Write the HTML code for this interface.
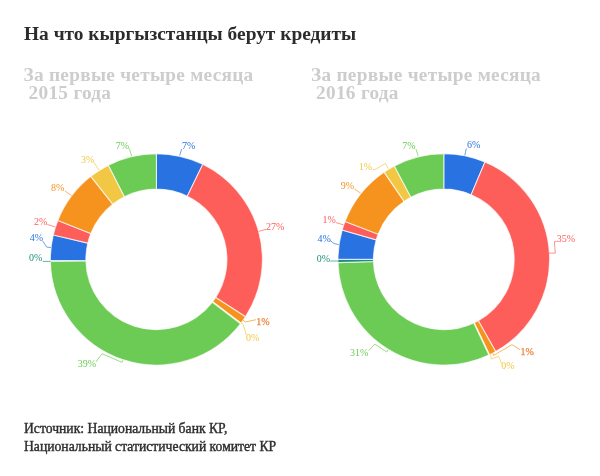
<!DOCTYPE html>
<html lang="ru"><head><meta charset="utf-8"><title>На что кыргызстанцы берут кредиты</title>
<style>
html,body{margin:0;padding:0;background:#fff}
body{width:600px;height:476px;position:relative;overflow:hidden;font-family:"Liberation Serif",serif}
.t{position:absolute;left:24px;white-space:nowrap;font-weight:bold;transform-origin:0 0}
#title{top:22px;font-size:19.4px;line-height:24px;color:#2c2c2e}
.sub{font-size:19.3px;letter-spacing:0.28px;line-height:18px;color:#cdcdcd;top:66px;white-space:pre}
#s1{left:23.5px} #s2{left:311px}
#foot{top:419.5px;font-size:13.67px;line-height:18px;color:#2e2e2e;font-weight:normal;-webkit-text-stroke:0.4px #2e2e2e}
svg{position:absolute;left:0;top:0}
svg text{font-family:"Liberation Serif",serif;font-size:10px;stroke-width:0}
svg text.b{stroke:#ef7f3e;stroke-width:0.25px;fill:#f0862e}
</style></head><body>
<div class="t" id="title">На что кыргызстанцы берут кредиты</div>
<div class="t sub" id="s1">За первые четыре месяца<br> 2015 года</div>
<div class="t sub" id="s2">За первые четыре месяца<br> 2016 года</div>
<svg width="600" height="476" viewBox="0 0 600 476">
<path d="M156.40,153.70A106.02,105.7 0 0 1 202.80,164.36L187.26,196.19A70.51,70.3 0 0 0 156.40,189.10Z" fill="#2972e2" stroke="#fff" stroke-opacity="0.7" stroke-width="1.1"/>
<path d="M202.80,164.36A106.02,105.7 0 0 1 245.48,316.71L215.65,297.52A70.51,70.3 0 0 0 187.26,196.19Z" fill="#fd5e5a" stroke="#fff" stroke-opacity="0.7" stroke-width="1.1"/>
<path d="M245.48,316.71A106.02,105.7 0 0 1 240.98,323.13L212.65,301.79A70.51,70.3 0 0 0 215.65,297.52Z" fill="#f6921e" stroke="#fff" stroke-opacity="0.7" stroke-width="1.1"/>
<path d="M240.98,323.13A106.02,105.7 0 0 1 240.50,323.76L212.33,302.21A70.51,70.3 0 0 0 212.65,301.79Z" fill="#f2c744" stroke="#fff" stroke-opacity="0.7" stroke-width="1.1"/>
<path d="M240.50,323.76A106.02,105.7 0 0 1 50.40,261.53L85.90,260.81A70.51,70.3 0 0 0 212.33,302.21Z" fill="#6ccb54" stroke="#fff" stroke-opacity="0.7" stroke-width="1.1"/>
<path d="M50.40,261.53A106.02,105.7 0 0 1 50.39,260.60L85.89,260.20A70.51,70.3 0 0 0 85.90,260.81Z" fill="#1f8f78" stroke="#fff" stroke-opacity="0.7" stroke-width="1.1"/>
<path d="M50.39,260.60A106.02,105.7 0 0 1 53.27,234.92L87.81,243.12A70.51,70.3 0 0 0 85.89,260.20Z" fill="#2972e2" stroke="#fff" stroke-opacity="0.7" stroke-width="1.1"/>
<path d="M53.27,234.92A106.02,105.7 0 0 1 57.83,220.49L90.84,233.52A70.51,70.3 0 0 0 87.81,243.12Z" fill="#fd5e5a" stroke="#fff" stroke-opacity="0.7" stroke-width="1.1"/>
<path d="M57.83,220.49A106.02,105.7 0 0 1 90.79,176.37L112.76,204.18A70.51,70.3 0 0 0 90.84,233.52Z" fill="#f6921e" stroke="#fff" stroke-opacity="0.7" stroke-width="1.1"/>
<path d="M90.79,176.37A106.02,105.7 0 0 1 108.39,165.16L124.47,196.72A70.51,70.3 0 0 0 112.76,204.18Z" fill="#f2c744" stroke="#fff" stroke-opacity="0.7" stroke-width="1.1"/>
<path d="M108.39,165.16A106.02,105.7 0 0 1 156.40,153.70L156.40,189.10A70.51,70.3 0 0 0 124.47,196.72Z" fill="#6ccb54" stroke="#fff" stroke-opacity="0.7" stroke-width="1.1"/>
<path d="M443.80,153.70A105.81,105.7 0 0 1 484.96,162.03L471.18,194.64A70.37,70.3 0 0 0 443.80,189.10Z" fill="#2972e2" stroke="#fff" stroke-opacity="0.7" stroke-width="1.1"/>
<path d="M484.96,162.03A105.81,105.7 0 0 1 495.64,351.54L478.28,320.68A70.37,70.3 0 0 0 471.18,194.64Z" fill="#fd5e5a" stroke="#fff" stroke-opacity="0.7" stroke-width="1.1"/>
<path d="M495.64,351.54A105.81,105.7 0 0 1 489.45,354.76L474.16,322.82A70.37,70.3 0 0 0 478.28,320.68Z" fill="#f6921e" stroke="#fff" stroke-opacity="0.7" stroke-width="1.1"/>
<path d="M489.45,354.76A105.81,105.7 0 0 1 488.85,355.04L473.76,323.01A70.37,70.3 0 0 0 474.16,322.82Z" fill="#f2c744" stroke="#fff" stroke-opacity="0.7" stroke-width="1.1"/>
<path d="M488.85,355.04A105.81,105.7 0 0 1 338.04,262.59L373.46,261.52A70.37,70.3 0 0 0 473.76,323.01Z" fill="#6ccb54" stroke="#fff" stroke-opacity="0.7" stroke-width="1.1"/>
<path d="M338.04,262.59A105.81,105.7 0 0 1 337.99,259.40L373.43,259.40A70.37,70.3 0 0 0 373.46,261.52Z" fill="#1f8f78" stroke="#fff" stroke-opacity="0.7" stroke-width="1.1"/>
<path d="M337.99,259.40A105.81,105.7 0 0 1 342.16,230.04L376.20,239.87A70.37,70.3 0 0 0 373.43,259.40Z" fill="#2972e2" stroke="#fff" stroke-opacity="0.7" stroke-width="1.1"/>
<path d="M342.16,230.04A105.81,105.7 0 0 1 345.06,221.42L378.13,234.14A70.37,70.3 0 0 0 376.20,239.87Z" fill="#fd5e5a" stroke="#fff" stroke-opacity="0.7" stroke-width="1.1"/>
<path d="M345.06,221.42A105.81,105.7 0 0 1 384.11,172.13L404.10,201.36A70.37,70.3 0 0 0 378.13,234.14Z" fill="#f6921e" stroke="#fff" stroke-opacity="0.7" stroke-width="1.1"/>
<path d="M384.11,172.13A105.81,105.7 0 0 1 394.35,165.95L410.91,197.25A70.37,70.3 0 0 0 404.10,201.36Z" fill="#f2c744" stroke="#fff" stroke-opacity="0.7" stroke-width="1.1"/>
<path d="M394.35,165.95A105.81,105.7 0 0 1 443.80,153.70L443.80,189.10A70.37,70.3 0 0 0 410.91,197.25Z" fill="#6ccb54" stroke="#fff" stroke-opacity="0.7" stroke-width="1.1"/>
<polyline points="181.6,149.1 179.7,155.6" fill="none" stroke="#2972e2" stroke-width="0.8" stroke-opacity="0.85"/>
<text x="182" y="148.6" fill="#2972e2" stroke="#2972e2" text-anchor="start">7%</text>
<polyline points="266.0,229.4 258.6,231.4" fill="none" stroke="#fd5e5a" stroke-width="0.8" stroke-opacity="0.85"/>
<text x="266" y="229.7" fill="#fd5e5a" stroke="#fd5e5a" text-anchor="start">27%</text>
<polyline points="256.0,319.7 245.3,322.0 242.7,320.0" fill="none" stroke="#f6921e" stroke-width="0.8" stroke-opacity="0.85"/>
<text x="256.3" y="325.3" fill="#f6921e" stroke="#f6921e" text-anchor="start" class="b">1%</text>
<polyline points="246.3,335.0 243.3,324.7 241.0,323.0" fill="none" stroke="#f2c744" stroke-width="0.8" stroke-opacity="0.85"/>
<text x="246" y="341.0" fill="#f2c744" stroke="#f2c744" text-anchor="start">0%</text>
<polyline points="96.0,362.0 102.0,353.7 122.0,362.4 122.9,360.2" fill="none" stroke="#6ccb54" stroke-width="0.8" stroke-opacity="0.85"/>
<text x="96" y="367.0" fill="#6ccb54" stroke="#6ccb54" text-anchor="end">39%</text>
<polyline points="42.7,261.4 50.6,261.4" fill="none" stroke="#1f8f78" stroke-width="0.8" stroke-opacity="0.85"/>
<text x="42.4" y="261.3" fill="#1f8f78" stroke="#1f8f78" text-anchor="end">0%</text>
<polyline points="42.7,241.0 46.7,247.1 51.0,247.5" fill="none" stroke="#2972e2" stroke-width="0.8" stroke-opacity="0.85"/>
<text x="43.2" y="241.3" fill="#2972e2" stroke="#2972e2" text-anchor="end">4%</text>
<polyline points="47.3,224.5 55.2,226.9" fill="none" stroke="#fd5e5a" stroke-width="0.8" stroke-opacity="0.85"/>
<text x="47.4" y="225.3" fill="#fd5e5a" stroke="#fd5e5a" text-anchor="end">2%</text>
<polyline points="64.7,190.9 71.6,195.6" fill="none" stroke="#f6921e" stroke-width="0.8" stroke-opacity="0.85"/>
<text x="64.4" y="191.2" fill="#f6921e" stroke="#f6921e" text-anchor="end">8%</text>
<polyline points="94.3,163.1 99.0,170.2" fill="none" stroke="#f2c744" stroke-width="0.8" stroke-opacity="0.85"/>
<text x="94.3" y="163.4" fill="#f2c744" stroke="#f2c744" text-anchor="end">3%</text>
<polyline points="129.3,148.5 131.7,156.0" fill="none" stroke="#6ccb54" stroke-width="0.8" stroke-opacity="0.85"/>
<text x="129.1" y="148.6" fill="#6ccb54" stroke="#6ccb54" text-anchor="end">7%</text>
<polyline points="466.4,148.4 464.8,155.2" fill="none" stroke="#2972e2" stroke-width="0.8" stroke-opacity="0.85"/>
<text x="467.1" y="148.0" fill="#2972e2" stroke="#2972e2" text-anchor="start">6%</text>
<polyline points="556.7,241.3 554.4,241.7 555.3,253.1 548.6,253.1" fill="none" stroke="#fd5e5a" stroke-width="0.8" stroke-opacity="0.85"/>
<text x="556.7" y="241.9" fill="#fd5e5a" stroke="#fd5e5a" text-anchor="start">35%</text>
<polyline points="520.0,349.7 512.0,344.6 493.7,355.4 492.7,352.7" fill="none" stroke="#f6921e" stroke-width="0.8" stroke-opacity="0.85"/>
<text x="520.5" y="354.9" fill="#f6921e" stroke="#f6921e" text-anchor="start" class="b">1%</text>
<polyline points="501.6,363.7 498.7,356.3 491.3,359.0 490.3,354.3" fill="none" stroke="#f2c744" stroke-width="0.8" stroke-opacity="0.85"/>
<text x="501.3" y="369.3" fill="#f2c744" stroke="#f2c744" text-anchor="start">0%</text>
<polyline points="368.7,350.7 374.9,344.0 386.7,352.0 388.0,349.8" fill="none" stroke="#6ccb54" stroke-width="0.8" stroke-opacity="0.85"/>
<text x="368.4" y="356.0" fill="#6ccb54" stroke="#6ccb54" text-anchor="end">31%</text>
<polyline points="330.2,261.0 338.4,261.0" fill="none" stroke="#1f8f78" stroke-width="0.8" stroke-opacity="0.85"/>
<text x="330.0" y="261.6" fill="#1f8f78" stroke="#1f8f78" text-anchor="end">0%</text>
<polyline points="330.2,240.5 334.0,243.5 338.7,244.6" fill="none" stroke="#2972e2" stroke-width="0.8" stroke-opacity="0.85"/>
<text x="330.9" y="242.0" fill="#2972e2" stroke="#2972e2" text-anchor="end">4%</text>
<polyline points="335.9,222.6 343.4,224.8" fill="none" stroke="#fd5e5a" stroke-width="0.8" stroke-opacity="0.85"/>
<text x="335.8" y="222.7" fill="#fd5e5a" stroke="#fd5e5a" text-anchor="end">1%</text>
<polyline points="354.3,188.9 360.6,193.1" fill="none" stroke="#f6921e" stroke-width="0.8" stroke-opacity="0.85"/>
<text x="354.2" y="188.5" fill="#f6921e" stroke="#f6921e" text-anchor="end">9%</text>
<polyline points="372.7,169.6 375.3,169.6 385.3,163.3 388.4,168.9" fill="none" stroke="#f2c744" stroke-width="0.8" stroke-opacity="0.85"/>
<text x="372" y="170.3" fill="#f2c744" stroke="#f2c744" text-anchor="end">1%</text>
<polyline points="416.0,149.1 418.1,155.9" fill="none" stroke="#6ccb54" stroke-width="0.8" stroke-opacity="0.85"/>
<text x="415.7" y="149.0" fill="#6ccb54" stroke="#6ccb54" text-anchor="end">7%</text>
</svg>
<div class="t" id="foot">Источник: Национальный банк КР,<br>Национальный статистический комитет КР</div>
</body></html>
